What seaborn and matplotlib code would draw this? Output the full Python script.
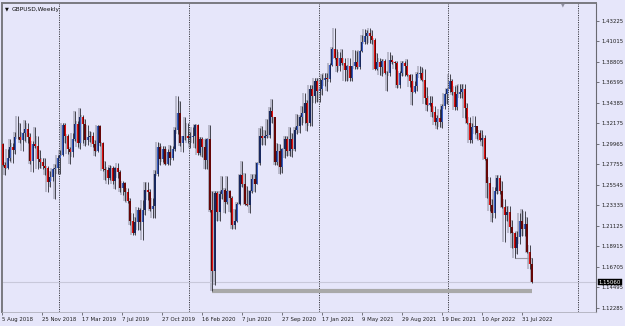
import matplotlib
matplotlib.use("Agg")
import matplotlib.pyplot as plt
import matplotlib.transforms as mtransforms
import numpy as np
import pandas as pd
import seaborn as sns

# ---------------- data (GBPUSD weekly candles) ----------------
opens = [1.2995, 1.2765, 1.2735, 1.2840, 1.2960, 1.2925, 1.3070, 1.3065, 1.3035, 1.3115,
         1.3155, 1.3065, 1.2815, 1.2995, 1.2970, 1.2830, 1.2805, 1.2755, 1.2740, 1.2585,
         1.2635, 1.2720, 1.2740, 1.2840, 1.2880, 1.3200, 1.3075, 1.2940, 1.2905, 1.3050,
         1.3210, 1.3010, 1.3290, 1.3210, 1.3035, 1.3065, 1.3075, 1.2990, 1.2920, 1.3185,
         1.3005, 1.2720, 1.2715, 1.2625, 1.2740, 1.2590, 1.2740, 1.2695, 1.2520, 1.2575,
         1.2480, 1.2375, 1.2165, 1.2030, 1.2150, 1.2285, 1.2155, 1.2285, 1.2500, 1.2475,
         1.2290, 1.2330, 1.2670, 1.2965, 1.2830, 1.2940, 1.2780, 1.2905, 1.2840, 1.2935,
         1.3150, 1.3330, 1.3010, 1.3075, 1.3085, 1.3060, 1.3070, 1.3075, 1.3200, 1.2895,
         1.3045, 1.2965, 1.2825, 1.3045, 1.2280, 1.1625, 1.2465, 1.2265, 1.2450, 1.2495,
         1.2370, 1.2490, 1.2410, 1.2125, 1.2165, 1.2345, 1.2665, 1.2565, 1.2350, 1.2335,
         1.2490, 1.2620, 1.2565, 1.2790, 1.3085, 1.3055, 1.3085, 1.3090, 1.3355, 1.3280,
         1.2795, 1.2915, 1.2745, 1.2940, 1.3045, 1.2915, 1.3045, 1.2945, 1.3150, 1.3190,
         1.3285, 1.3325, 1.3435, 1.3225, 1.3585, 1.3515, 1.3670, 1.3565, 1.3590, 1.3685,
         1.3705, 1.3695, 1.3845, 1.4015, 1.3925, 1.3830, 1.3925, 1.3865, 1.3790, 1.3830,
         1.3710, 1.3835, 1.3875, 1.3825, 1.3995, 1.4095, 1.4155, 1.4190, 1.4160, 1.4110,
         1.3805, 1.3880, 1.3825, 1.3890, 1.3760, 1.3755, 1.3900, 1.3875, 1.3870, 1.3625,
         1.3760, 1.3865, 1.3835, 1.3735, 1.3675, 1.3550, 1.3615, 1.3745, 1.3755, 1.3680,
         1.3495, 1.3410, 1.3435, 1.3335, 1.3235, 1.3270, 1.3235, 1.3400, 1.3530, 1.3590,
         1.3675, 1.3550, 1.3395, 1.3530, 1.3555, 1.3590, 1.3380, 1.3225, 1.3035, 1.3180,
         1.3185, 1.3110, 1.3035, 1.3060, 1.2835, 1.2570, 1.2335, 1.2255, 1.2490, 1.2625,
         1.2485, 1.2310, 1.2225, 1.2265, 1.2095, 1.2030, 1.1870, 1.1995, 1.2165, 1.2075,
         1.2130, 1.1830, 1.1705]
highs = [1.3010, 1.2800, 1.2935, 1.3045, 1.3000, 1.3120, 1.3298, 1.3215, 1.3125, 1.3258,
         1.3225, 1.3110, 1.3030, 1.3175, 1.3075, 1.2925, 1.2840, 1.2840, 1.2760, 1.2700,
         1.2730, 1.2780, 1.2870, 1.2930, 1.3215, 1.3215, 1.3105, 1.2960, 1.3110, 1.3350,
         1.3245, 1.3380, 1.3305, 1.3265, 1.3200, 1.3135, 1.3125, 1.3040, 1.3200, 1.3195,
         1.3015, 1.2815, 1.2750, 1.2765, 1.2760, 1.2750, 1.2785, 1.2715, 1.2590, 1.2580,
         1.2520, 1.2415, 1.2250, 1.2210, 1.2310, 1.2305, 1.2385, 1.2580, 1.2580, 1.2510,
         1.2410, 1.2710, 1.3015, 1.3010, 1.2975, 1.2975, 1.2935, 1.2985, 1.2975, 1.3175,
         1.3515, 1.3455, 1.3085, 1.3285, 1.3215, 1.3120, 1.3175, 1.3210, 1.3210, 1.3070,
         1.3070, 1.3050, 1.3055, 1.3200, 1.2485, 1.2485, 1.2485, 1.2485, 1.2650, 1.2520,
         1.2645, 1.2500, 1.2430, 1.2295, 1.2365, 1.2670, 1.2815, 1.2685, 1.2545, 1.2500,
         1.2670, 1.2670, 1.2800, 1.3170, 1.3185, 1.3145, 1.3265, 1.3395, 1.3480, 1.3285,
         1.3005, 1.2990, 1.2955, 1.3085, 1.3085, 1.3175, 1.3110, 1.3180, 1.3315, 1.3310,
         1.3400, 1.3540, 1.3470, 1.3625, 1.3625, 1.3705, 1.3705, 1.3710, 1.3745, 1.3760,
         1.3760, 1.3865, 1.4035, 1.4240, 1.4015, 1.3990, 1.4015, 1.3925, 1.3850, 1.3920,
         1.3840, 1.4010, 1.3995, 1.4005, 1.4165, 1.4235, 1.4220, 1.4250, 1.4220, 1.4135,
         1.3975, 1.3920, 1.3910, 1.3910, 1.3785, 1.3985, 1.3955, 1.3890, 1.3890, 1.3780,
         1.3890, 1.3890, 1.3915, 1.3750, 1.3750, 1.3675, 1.3775, 1.3835, 1.3825, 1.3800,
         1.3610, 1.3515, 1.3510, 1.3405, 1.3305, 1.3375, 1.3420, 1.3545, 1.3600, 1.3750,
         1.3690, 1.3620, 1.3630, 1.3640, 1.3645, 1.3645, 1.3440, 1.3280, 1.3215, 1.3300,
         1.3190, 1.3150, 1.3150, 1.3090, 1.2850, 1.2640, 1.2405, 1.2525, 1.2665, 1.2665,
         1.2600, 1.2405, 1.2325, 1.2330, 1.2175, 1.2050, 1.2060, 1.2245, 1.2295, 1.2275,
         1.2205, 1.1900, 1.1760]
lows = [1.2755, 1.2662, 1.2725, 1.2810, 1.2785, 1.2885, 1.3045, 1.3010, 1.2920, 1.3030,
        1.3000, 1.2775, 1.2695, 1.2950, 1.2725, 1.2740, 1.2720, 1.2660, 1.2477, 1.2530,
        1.2600, 1.2405, 1.2670, 1.2670, 1.2865, 1.3005, 1.2890, 1.2775, 1.2855, 1.3025,
        1.2960, 1.2940, 1.3000, 1.2975, 1.2980, 1.3020, 1.2960, 1.2865, 1.2905, 1.2970,
        1.2705, 1.2605, 1.2560, 1.2605, 1.2560, 1.2505, 1.2630, 1.2475, 1.2440, 1.2380,
        1.2360, 1.2120, 1.2015, 1.2015, 1.2070, 1.2070, 1.1960, 1.2230, 1.2395, 1.2270,
        1.2195, 1.2200, 1.2645, 1.2770, 1.2800, 1.2770, 1.2770, 1.2770, 1.2820, 1.2920,
        1.3105, 1.2975, 1.2905, 1.3040, 1.3010, 1.2955, 1.3010, 1.2950, 1.2870, 1.2870,
        1.2850, 1.2725, 1.2725, 1.2265, 1.1409, 1.1475, 1.2165, 1.2165, 1.2405, 1.2250,
        1.2350, 1.2265, 1.2075, 1.2075, 1.2150, 1.2335, 1.2530, 1.2335, 1.2330, 1.2250,
        1.2470, 1.2480, 1.2560, 1.2770, 1.2980, 1.2980, 1.3060, 1.3060, 1.3225, 1.2765,
        1.2765, 1.2675, 1.2680, 1.2840, 1.2860, 1.2865, 1.2855, 1.2915, 1.3105, 1.3110,
        1.3195, 1.3220, 1.3135, 1.3190, 1.3190, 1.3435, 1.3450, 1.3450, 1.3520, 1.3620,
        1.3565, 1.3665, 1.3830, 1.3915, 1.3775, 1.3780, 1.3845, 1.3670, 1.3670, 1.3670,
        1.3670, 1.3800, 1.3800, 1.3800, 1.3990, 1.4075, 1.4075, 1.4085, 1.4075, 1.3790,
        1.3790, 1.3735, 1.3730, 1.3750, 1.3570, 1.3730, 1.3860, 1.3800, 1.3600, 1.3600,
        1.3730, 1.3725, 1.3730, 1.3610, 1.3410, 1.3545, 1.3565, 1.3710, 1.3670, 1.3425,
        1.3355, 1.3400, 1.3280, 1.3195, 1.3160, 1.3180, 1.3170, 1.3375, 1.3430, 1.3560,
        1.3520, 1.3360, 1.3360, 1.3490, 1.3490, 1.3270, 1.3210, 1.3000, 1.3000, 1.3100,
        1.3050, 1.3030, 1.2975, 1.2820, 1.2410, 1.2275, 1.2155, 1.2200, 1.2460, 1.2450,
        1.2300, 1.1935, 1.2160, 1.2030, 1.1875, 1.1760, 1.1805, 1.1915, 1.2000, 1.2005,
        1.1820, 1.1650, 1.1495]
closes = [1.2765, 1.2735, 1.2840, 1.2960, 1.2925, 1.3070, 1.3065, 1.3035, 1.3115, 1.3155,
          1.3065, 1.2815, 1.2995, 1.2970, 1.2830, 1.2805, 1.2755, 1.2740, 1.2585, 1.2635,
          1.2720, 1.2740, 1.2840, 1.2880, 1.3200, 1.3075, 1.2940, 1.2905, 1.3050, 1.3210,
          1.3010, 1.3290, 1.3210, 1.3035, 1.3065, 1.3075, 1.2990, 1.2920, 1.3185, 1.3005,
          1.2720, 1.2715, 1.2625, 1.2740, 1.2590, 1.2740, 1.2695, 1.2520, 1.2575, 1.2480,
          1.2375, 1.2165, 1.2030, 1.2150, 1.2285, 1.2155, 1.2285, 1.2500, 1.2475, 1.2290,
          1.2330, 1.2670, 1.2965, 1.2830, 1.2940, 1.2780, 1.2905, 1.2840, 1.2935, 1.3150,
          1.3330, 1.3010, 1.3075, 1.3085, 1.3060, 1.3070, 1.3075, 1.3200, 1.2895, 1.3045,
          1.2965, 1.2825, 1.3045, 1.2280, 1.1625, 1.2465, 1.2265, 1.2450, 1.2495, 1.2370,
          1.2490, 1.2410, 1.2125, 1.2165, 1.2345, 1.2665, 1.2565, 1.2350, 1.2335, 1.2490,
          1.2620, 1.2565, 1.2790, 1.3085, 1.3055, 1.3085, 1.3090, 1.3355, 1.3280, 1.2795,
          1.2915, 1.2745, 1.2940, 1.3045, 1.2915, 1.3045, 1.2945, 1.3150, 1.3190, 1.3285,
          1.3325, 1.3435, 1.3225, 1.3585, 1.3515, 1.3670, 1.3565, 1.3590, 1.3685, 1.3705,
          1.3695, 1.3845, 1.4015, 1.3925, 1.3830, 1.3925, 1.3865, 1.3790, 1.3830, 1.3710,
          1.3835, 1.3875, 1.3825, 1.3995, 1.4095, 1.4155, 1.4190, 1.4160, 1.4110, 1.3805,
          1.3880, 1.3825, 1.3890, 1.3760, 1.3755, 1.3900, 1.3875, 1.3870, 1.3625, 1.3760,
          1.3865, 1.3835, 1.3735, 1.3675, 1.3550, 1.3615, 1.3745, 1.3755, 1.3680, 1.3495,
          1.3410, 1.3435, 1.3335, 1.3235, 1.3270, 1.3235, 1.3400, 1.3530, 1.3590, 1.3675,
          1.3550, 1.3395, 1.3530, 1.3555, 1.3590, 1.3380, 1.3225, 1.3035, 1.3180, 1.3185,
          1.3110, 1.3035, 1.3060, 1.2835, 1.2570, 1.2335, 1.2255, 1.2490, 1.2625, 1.2485,
          1.2310, 1.2225, 1.2265, 1.2095, 1.2030, 1.1870, 1.1995, 1.2165, 1.2075, 1.2130,
          1.1830, 1.1705, 1.1506]

x_tick_weeks = [0, 16, 32, 48, 64, 80, 96, 112, 128, 144, 160, 176, 192, 208]
x_tick_labels = ["5 Aug 2018", "25 Nov 2018", "17 Mar 2019", "7 Jul 2019", "27 Oct 2019",
                 "16 Feb 2020", "7 Jun 2020", "27 Sep 2020", "17 Jan 2021", "9 May 2021",
                 "29 Aug 2021", "19 Dec 2021", "10 Apr 2022", "31 Jul 2022"]
y_ticks = [1.12285, 1.14495, 1.16705, 1.18915, 1.21125, 1.23335, 1.25545, 1.27755,
           1.29965, 1.32175, 1.34385, 1.36595, 1.38805, 1.41015, 1.43225]
y_tick_labels = ["1.12285", "1.14495", "1.16705", "1.18915", "1.21125", "1.23335", "1.25545",
                 "1.27755", "1.29965", "1.32175", "1.34385", "1.36595", "1.38805", "1.41015",
                 "1.43225"]
separator_weeks = [22, 74, 126, 178, 230]
last_price = 1.15060
last_price_label = "1.15060"
support_start_week, support_end_week, support_level = 84, 212, 1.1409
line2_start_week, line2_end_week, line2_level = 205, 212, 1.1760
title = "GBPUSD,Weekly"

# ---------------- styling ----------------
BG = "#E6E6FA"
sns.set_theme(style="white")
plt.rcParams["font.family"] = ["DejaVu Sans"]

df = pd.DataFrame({"week": np.arange(len(closes)), "open": opens, "high": highs,
                   "low": lows, "close": closes})
df["bull"] = df["close"] >= df["open"]
df["bottom"] = df[["open", "close"]].min(axis=1)
df["height"] = (df["close"] - df["open"]).abs().clip(lower=0.0004)

W, H = 625, 326
fig = plt.figure(figsize=(W / 100, H / 100), dpi=100, facecolor=BG)
ax = fig.add_axes([2 / W, 14 / H, 594 / W, 309 / H], facecolor=BG)

# light "ghost" shadow next to each candle
ax.vlines(df["week"] - 0.55, df["low"], df["high"], color="#a4a4b4", lw=1.1, zorder=1, alpha=0.85)
ax.bar(df["week"] - 0.45, df["height"], bottom=df["bottom"], width=0.7,
       color="#a4a4b4", alpha=0.8, zorder=1, linewidth=0)
# wicks
ax.vlines(df["week"], df["low"], df["high"], color="#2a2a32", lw=0.6, zorder=3)
# bodies
bull = df[df["bull"]]
bear = df[~df["bull"]]
ax.bar(bull["week"], bull["height"], bottom=bull["bottom"], width=0.8,
       color="#18285e", linewidth=0, zorder=4)
ax.bar(bull["week"], bull["height"], bottom=bull["bottom"], width=0.28,
       color="#3a5cc0", linewidth=0, zorder=5)
ax.bar(bear["week"], bear["height"], bottom=bear["bottom"], width=0.8,
       color="#660606", linewidth=0, zorder=4)
ax.bar(bear["week"], bear["height"], bottom=bear["bottom"], width=0.28,
       color="#e01010", linewidth=0, zorder=5)

# period separators
for w in separator_weeks:
    ax.axvline(w + 0.5, color="#3c3c44", lw=0.7, ls=(0, (1.2, 1.2)), zorder=2)

# current price line
ax.axhline(last_price, color="#c8c8da", lw=0.8, zorder=2)

# drawn support lines
sup = pd.DataFrame({"week": [support_start_week, support_end_week],
                    "price": [support_level, support_level]})
sns.lineplot(data=sup, x="week", y="price", ax=ax, color="#a9a9a9", lw=3.0,
             zorder=2, solid_capstyle="butt")
ln2 = pd.DataFrame({"week": [line2_start_week, line2_end_week],
                    "price": [line2_level, line2_level]})
sns.lineplot(data=ln2, x="week", y="price", ax=ax, color="#9a9aa6", lw=0.8, zorder=2)

ax.set_xlim(-0.3, 237.6)
ax.set_ylim(1.11826, 1.45142)
ax.set_xlabel("")
ax.set_ylabel("")

# axes ticks
ax.yaxis.tick_right()
ax.set_yticks(y_ticks)
ax.set_yticklabels(y_tick_labels)
ax.set_xticks([w - 0.1 for w in x_tick_weeks])
ax.set_xticklabels(x_tick_labels)
for lab in ax.get_xticklabels():
    lab.set_horizontalalignment("left")
ax.tick_params(axis="y", which="both", right=True, left=False, direction="out", length=2.5,
               width=0.6, color="#606068", labelsize=3.9, labelcolor="#202020", pad=1.2)
ax.tick_params(axis="x", which="both", bottom=True, direction="out", length=2.5, width=0.6,
               color="#606068", labelsize=3.9, labelcolor="#202020", pad=1.0)

for side in ["left", "top"]:
    ax.spines[side].set_color("#7a7a80")
    ax.spines[side].set_linewidth(1.4)
ax.spines["right"].set_color("#6a6a72")
ax.spines["right"].set_linewidth(0.8)
ax.spines["bottom"].set_color("#b0b0bc")
ax.spines["bottom"].set_linewidth(0.6)

# price box on the right scale
trans = mtransforms.blended_transform_factory(ax.transAxes, ax.transData)
ax.text(1.004, last_price, last_price_label, transform=trans, fontsize=3.9, color="white",
        va="center", ha="left", zorder=10, clip_on=False,
        bbox=dict(boxstyle="square,pad=0.15", fc="black", ec="black", lw=0.3))

# title
fig.text(5 / W, 1 - 9 / H, "\u25bc", fontsize=3.6, color="#101010", va="center", ha="left")
fig.text(12 / W, 1 - 9 / H, title, fontsize=4.2, color="#101010", va="center", ha="left")
# chart-shift marker
fig.text(563 / W, 1 - 5 / H, "\u25bc", fontsize=3.5, color="#9090a0", va="center", ha="center")

fig.savefig("out.png", dpi=100, facecolor=BG)
